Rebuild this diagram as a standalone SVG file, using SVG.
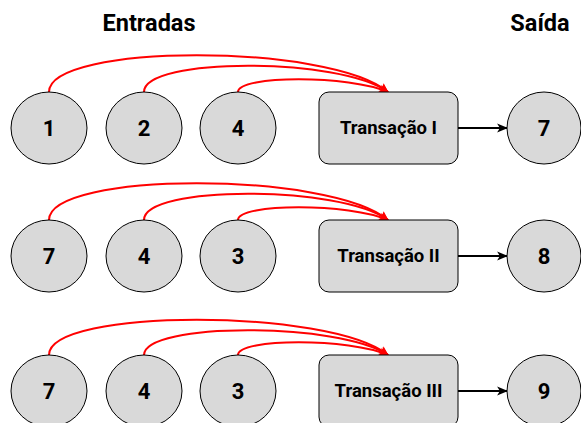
<svg xmlns="http://www.w3.org/2000/svg" width="581" height="423" viewBox="0 0 581 423">
<defs>
<marker id="ar" viewBox="0 0 10 10" refX="9" refY="5" markerWidth="10" markerHeight="10" markerUnits="userSpaceOnUse" orient="auto"><path d="M0,1 L10,5 L0,9 L2.5,5 Z" fill="#ff0000"/></marker>
<marker id="ab" viewBox="0 0 10 10" refX="9" refY="5" markerWidth="11" markerHeight="11" markerUnits="userSpaceOnUse" orient="auto"><path d="M0,1 L10,5 L0,9 L2.5,5 Z" fill="#000"/></marker>
</defs>
<style>
.n ellipse, .n rect { fill:#d9d9d9; stroke:#000; stroke-width:1; }
.t { font-family:Roboto, "Liberation Sans", sans-serif; font-weight:bold; fill:#000; text-anchor:middle; dominant-baseline:central; }
.num { font-size:22px; }
.tr { font-size:18.5px; }
.h { font-size:23.5px; }
.r { fill:none; stroke:#ff0000; stroke-width:2; marker-end:url(#ar); }
.b { fill:none; stroke:#000; stroke-width:2; marker-end:url(#ab); }
</style>
<rect width="581" height="423" fill="#fff"/>
<text class="t h" x="149" y="23">Entradas</text>
<text class="t h" x="540" y="23">Saída</text>

<g id="connectors">
<path class="r" d="M49,92 C49,43 330,43 388,92"/>
<path class="r" d="M144,92 C144,57 340,57 388,92"/>
<path class="r" d="M238,92 C238,75 350,75 388,92"/>
<path class="b" d="M458,128 L507,128"/>

<path class="r" d="M49,220 C49,171 330,171 388,220"/>
<path class="r" d="M144,220 C144,185 340,185 388,220"/>
<path class="r" d="M238,220 C238,203 350,203 388,220"/>
<path class="b" d="M458,256 L507,256"/>

<path class="r" d="M49,355 C49,308 330,308 388,355"/>
<path class="r" d="M144,355 C144,322 340,322 388,355"/>
<path class="r" d="M238,355 C238,338 350,338 388,355"/>
<path class="b" d="M458,391 L507,391"/>
</g>

<g id="in1a" class="n"><ellipse cx="49" cy="128" rx="38" ry="36"/><text class="t num" x="49" y="128">1</text></g>
<g id="in1b" class="n"><ellipse cx="144" cy="128" rx="38" ry="36"/><text class="t num" x="144" y="128">2</text></g>
<g id="in1c" class="n"><ellipse cx="238" cy="128" rx="38" ry="36"/><text class="t num" x="238" y="128">4</text></g>
<g id="tx1" class="n"><rect x="319" y="92" width="139" height="72" rx="10"/><text class="t tr" x="388.5" y="128">Transação I</text></g>
<g id="out1" class="n"><ellipse cx="544" cy="128" rx="37" ry="36"/><text class="t num" x="544" y="128">7</text></g>

<g id="in2a" class="n"><ellipse cx="49" cy="256" rx="38" ry="36"/><text class="t num" x="49" y="256">7</text></g>
<g id="in2b" class="n"><ellipse cx="144" cy="256" rx="38" ry="36"/><text class="t num" x="144" y="256">4</text></g>
<g id="in2c" class="n"><ellipse cx="238" cy="256" rx="38" ry="36"/><text class="t num" x="238" y="256">3</text></g>
<g id="tx2" class="n"><rect x="319" y="220" width="139" height="72" rx="10"/><text class="t tr" x="388.5" y="256">Transação II</text></g>
<g id="out2" class="n"><ellipse cx="544" cy="256" rx="37" ry="36"/><text class="t num" x="544" y="256">8</text></g>

<g id="in3a" class="n"><ellipse cx="49" cy="391" rx="38" ry="36"/><text class="t num" x="49" y="391">7</text></g>
<g id="in3b" class="n"><ellipse cx="144" cy="391" rx="38" ry="36"/><text class="t num" x="144" y="391">4</text></g>
<g id="in3c" class="n"><ellipse cx="238" cy="391" rx="38" ry="36"/><text class="t num" x="238" y="391">3</text></g>
<g id="tx3" class="n"><rect x="319" y="355" width="139" height="72" rx="10"/><text class="t tr" x="388.5" y="391">Transação III</text></g>
<g id="out3" class="n"><ellipse cx="544" cy="391" rx="37" ry="36"/><text class="t num" x="544" y="391">9</text></g>
</svg>
